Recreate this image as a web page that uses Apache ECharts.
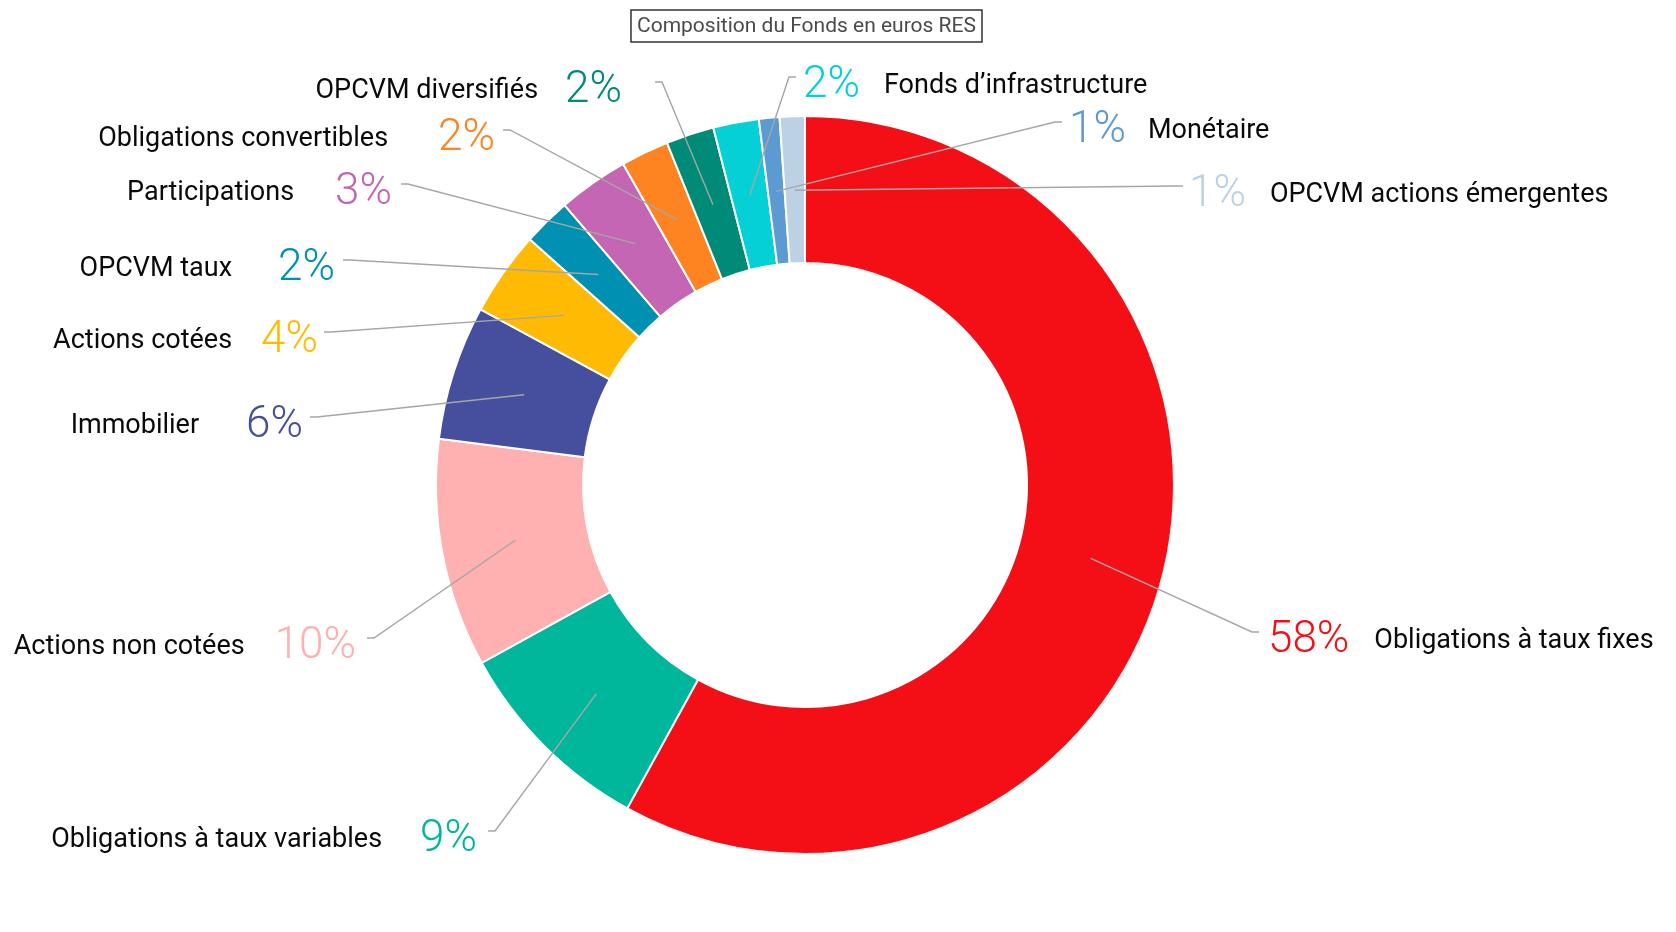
<!DOCTYPE html>
<html>
<head>
<meta charset="utf-8">
<script src="https://cdn.jsdelivr.net/npm/echarts@6/dist/echarts.min.js"></script>
<style>
html,body{margin:0;padding:0;background:#fff;}
#chart{width:1676px;height:932px;}
</style>
</head>
<body>
<div id="chart"></div>
<script>
// ---- data ----
const categories = ['Obligations à taux fixes', 'Obligations à taux variables', 'Actions non cotées', 'Immobilier', 'Actions cotées', 'OPCVM taux', 'Participations', 'Obligations convertibles', 'OPCVM diversifiés', 'Fonds d’infrastructure', 'Monétaire', 'OPCVM actions émergentes'];
const values = [58.0, 9.0, 10.0, 5.9, 3.7, 2.1, 3.1, 2.1, 2.1, 2.0, 0.9, 1.1];
const titleText = 'Composition du Fonds en euros RES';

// ---- styles ----
const colors = ['#f40f16', '#00b79c', '#ffb0b0', '#454f9d', '#ffbb04', '#0090b2', '#c466b3', '#fd8421', '#008a78', '#04d0d6', '#5b9bd1', '#bdd1e4'];
const FONT = "Roboto, 'DejaVu Sans Condensed', sans-serif";

// ---- layout ----
const CENTER = [805, 485];
const RADIUS = [222, 369];
const LINE_START_R = 295;
const HOOK = 7;
// line end point, side of the label, gap line->percent, gap percent<->name
const labelLayoutCfg = [
  {x: 1259, y: 632, side: 'right', gap: 9,  ng: 25},
  {x: 488,  y: 831, side: 'left',  gap: 11, ng: 38},
  {x: 367,  y: 638, side: 'left',  gap: 11, ng: 30},
  {x: 310,  y: 417, side: 'left',  gap: 7,  ng: 47},
  {x: 324,  y: 332, side: 'left',  gap: 6,  ng: 29},
  {x: 343,  y: 260, side: 'left',  gap: 8,  ng: 46},
  {x: 401,  y: 184, side: 'left',  gap: 9,  ng: 41},
  {x: 503,  y: 130, side: 'left',  gap: 8,  ng: 50},
  {x: 655,  y: 82,  side: 'left',  gap: 33, ng: 27},
  {x: 796,  y: 77,  side: 'right', gap: 7,  ng: 24},
  {x: 1062, y: 122, side: 'right', gap: 7,  ng: 22},
  {x: 1183, y: 186, side: 'right', gap: 6,  ng: 24}
];

const total = values.reduce((a, b) => a + b, 0);

const ringData = categories.map((name, i) => ({
  name: name,
  value: values[i],
  itemStyle: {color: colors[i]}
}));

const labelData = categories.map((name, i) => {
  const cfg = labelLayoutCfg[i];
  const namePad = cfg.side === 'left' ? [0, cfg.ng, 8, 0] : [0, 0, 8, cfg.ng];
  return {
    name: name,
    value: values[i],
    itemStyle: {color: 'rgba(0,0,0,0)'},
    label: {
      rich: {
        n: {fontFamily: FONT, fontSize: 27, color: '#0a0a0a', padding: namePad, verticalAlign: 'bottom', lineHeight: 40},
        p: {fontFamily: FONT, fontSize: 44, fontWeight: 300, color: colors[i], verticalAlign: 'bottom', lineHeight: 48}
      }
    }
  };
});

const chart = echarts.init(document.getElementById('chart'), null, {renderer: 'canvas'});

chart.setOption({
  animation: false,
  backgroundColor: '#ffffff',
  title: {
    text: titleText,
    left: 631,
    top: 10,
    padding: [6, 6, 5, 6],
    borderColor: '#333333',
    borderWidth: 1.5,
    textStyle: {fontFamily: FONT, fontSize: 21, fontWeight: 'normal', color: '#4a4a4a'}
  },
  series: [{
    type: 'pie',
    z: 2,
    center: CENTER,
    radius: RADIUS,
    startAngle: 90,
    clockwise: true,
    silent: true,
    emphasis: {disabled: true},
    itemStyle: {borderColor: '#ffffff', borderWidth: 2},
    label: {show: false},
    labelLine: {show: false},
    data: ringData
  }, {
    type: 'pie',
    z: 10,
    center: CENTER,
    radius: RADIUS,
    startAngle: 90,
    clockwise: true,
    silent: true,
    avoidLabelOverlap: false,
    emphasis: {disabled: true},
    itemStyle: {borderWidth: 0},
    label: {
      show: true,
      position: 'outside',
      overflow: 'none',
      formatter: function (p) {
        const pct = Math.round(p.percent) + '%';
        return labelLayoutCfg[p.dataIndex].side === 'left'
          ? '{n|' + p.name + '}{p|' + pct + '}'
          : '{p|' + pct + '}{n|' + p.name + '}';
      }
    },
    labelLine: {show: true, length: 10, length2: 10, lineStyle: {color: '#a6a6a6', width: 1.4}},
    labelLayout: function (params) {
      const i = params.dataIndex;
      const cfg = labelLayoutCfg[i];
      const p0 = params.labelLinePoints && params.labelLinePoints[0];
      let start;
      if (p0) {
        const dx = p0[0] - CENTER[0], dy = p0[1] - CENTER[1];
        const r = Math.sqrt(dx * dx + dy * dy) || 1;
        start = [CENTER[0] + dx / r * LINE_START_R, CENTER[1] + dy / r * LINE_START_R];
      } else {
        let cum = 0;
        for (let k = 0; k < i; k++) cum += values[k];
        const th = (cum + values[i] / 2) / total * 2 * Math.PI;
        start = [CENTER[0] + LINE_START_R * Math.sin(th), CENTER[1] - LINE_START_R * Math.cos(th)];
      }
      const dir = cfg.side === 'right' ? 1 : -1;
      return {
        x: cfg.x + dir * cfg.gap,
        y: cfg.y + 6.5,
        align: cfg.side === 'right' ? 'left' : 'right',
        verticalAlign: 'middle',
        labelLinePoints: [start, [cfg.x - dir * HOOK, cfg.y], [cfg.x, cfg.y]]
      };
    },
    data: labelData
  }]
});
</script>
</body>
</html>
